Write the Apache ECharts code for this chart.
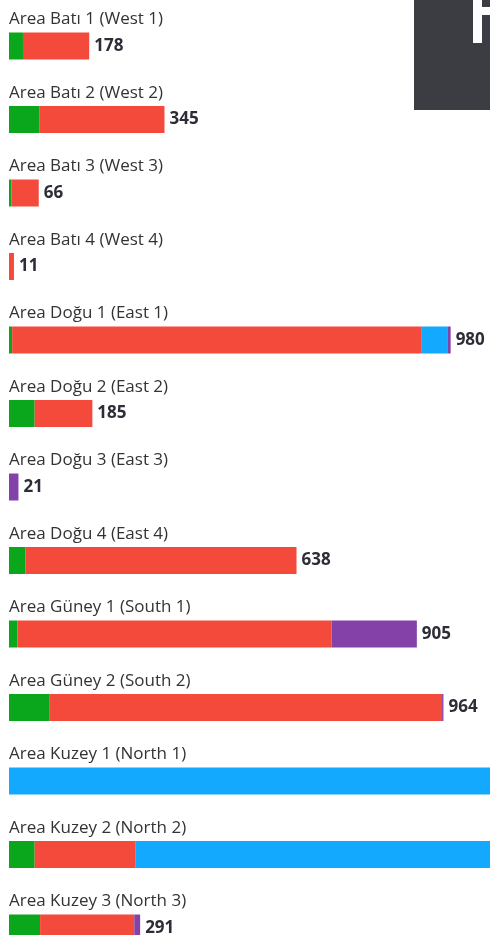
<!DOCTYPE html>
<html>
<head>
<meta charset="utf-8">
<script src="https://cdn.jsdelivr.net/npm/echarts@6/dist/echarts.min.js"></script>
<style>
  html, body { margin: 0; padding: 0; width: 490px; height: 935px; overflow: hidden; background: #fff; }
  #chart { position: absolute; left: 0; top: 0; width: 800px; height: 1000px; }
</style>
</head>
<body>
<div id="chart"></div>
<script>
// rows, top to bottom
const areas = [
  "Area Batı 1 (West 1)", "Area Batı 2 (West 2)", "Area Batı 3 (West 3)", "Area Batı 4 (West 4)",
  "Area Doğu 1 (East 1)", "Area Doğu 2 (East 2)", "Area Doğu 3 (East 3)", "Area Doğu 4 (East 4)",
  "Area Güney 1 (South 1)", "Area Güney 2 (South 2)",
  "Area Kuzey 1 (North 1)", "Area Kuzey 2 (North 2)", "Area Kuzey 3 (North 3)"
];

// stacked segments
const green  = [31, 67, 5, 0, 7, 57, 0, 36, 19, 89, 0, 57, 69];
const red    = [147, 278, 61, 11, 909, 128, 0, 602, 697, 872, 0, 223, 209];
const blue   = [0, 0, 0, 0, 58, 0, 0, 0, 0, 0, 1250, 1000, 0];
const purple = [0, 0, 0, 0, 6, 0, 21, 0, 189, 3, 0, 0, 13];

// printed totals (North 1 / North 2 run off the picture)
const totals = [178, 345, 66, 11, 980, 185, 21, 638, 905, 964, 1250, 1280, 291];

const colors = { green: "#0aa61b", red: "#f44a3b", blue: "#12a9ff", purple: "#8442a8" };

const chart = echarts.init(document.getElementById("chart"), null, { renderer: "canvas" });

const seg = (name, data, color) => ({
  name, type: "bar", stack: "total", data,
  barWidth: 27,
  itemStyle: { color },
  silent: true
});

// the first segment carries the area name above the bar
const greenSeries = seg("green", green, colors.green);
greenSeries.label = {
  show: true,
  position: [0, -13],
  align: "left",
  verticalAlign: "middle",
  formatter: p => areas[p.dataIndex],
  fontFamily: "Open Sans",
  fontSize: 17,
  color: "#333"
};

chart.setOption({
  animation: false,
  grid: { left: 9, top: 9.25, width: 676, height: 955.5 },
  xAxis: { type: "value", min: 0, max: 1500, show: false },
  yAxis: {
    type: "category",
    data: areas,
    inverse: true,
    show: false
  },
  series: [
    greenSeries,
    seg("red", red, colors.red),
    seg("blue", blue, colors.blue),
    seg("purple", purple, colors.purple),
    {
      name: "total", type: "bar", stack: "total",
      data: areas.map(() => 0),
      barWidth: 27,
      itemStyle: { color: "transparent" },
      label: {
        show: true,
        position: "right",
        distance: 5,
        formatter: p => totals[p.dataIndex],
        fontFamily: "Open Sans",
        fontWeight: "bold",
        fontSize: 17,
        color: "#2d2d38"
      }
    }
  ],
  graphic: [
    { type: "rect", left: 414, top: 0, shape: { width: 76, height: 110 }, style: { fill: "#3c3d42" } },
    { type: "rect", left: 473, top: 0, shape: { width: 9, height: 43 }, style: { fill: "#ffffff" } },
    { type: "rect", left: 482, top: 7, shape: { width: 8, height: 8 }, style: { fill: "#ffffff" } }
  ]
});
</script>
</body>
</html>
